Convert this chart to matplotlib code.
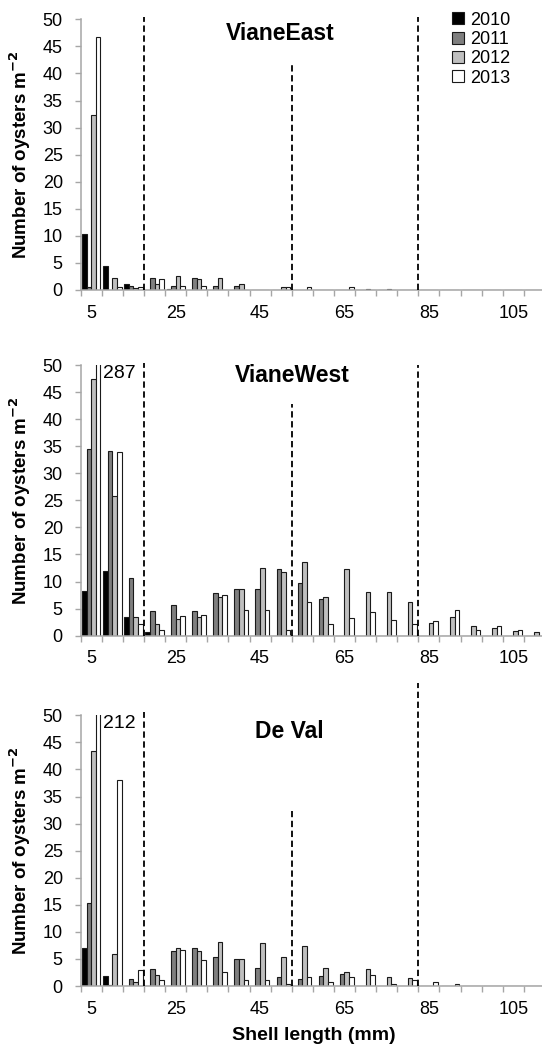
import matplotlib
matplotlib.use("Agg")
import matplotlib.pyplot as plt
from matplotlib.patches import Patch

plt.rcParams['font.family'] = ['Liberation Sans', 'DejaVu Sans']

# ---------------- data ----------------
categories = [5, 10, 15, 20, 25, 30, 35, 40, 45, 50, 55, 60, 65, 70, 75, 80, 85, 90, 95, 100, 105, 110]
tick_labels = ['5', '25', '45', '65', '85', '105']
years = ['2010', '2011', '2012', '2013']

east_2010 = [10.3, 4.5, 1.1, 0, 0.2, 0, 0, 0, 0, 0, 0, 0, 0, 0, 0, 0, 0, 0, 0, 0, 0, 0]
east_2011 = [0.6, 0, 0.7, 2.3, 0.7, 2.3, 0.7, 0.7, 0, 0, 0, 0, 0, 0, 0, 0, 0, 0, 0, 0, 0, 0]
east_2012 = [32.3, 2.3, 0.3, 1.2, 2.5, 2.0, 2.3, 1.2, 0, 0.6, 0, 0, 0, 0.2, 0.2, 0, 0, 0, 0, 0, 0, 0]
east_2013 = [46.7, 0.6, 0.6, 2.0, 0.7, 0.7, 0, 0, 0, 0.6, 0.6, 0, 0.6, 0, 0, 0, 0, 0, 0, 0, 0, 0]

west_2010 = [8.3, 12.0, 3.4, 0.7, 0, 0, 0, 0, 0, 0, 0, 0, 0, 0, 0, 0, 0, 0, 0, 0, 0, 0]
west_2011 = [34.4, 34.2, 10.6, 4.6, 5.6, 4.6, 7.8, 8.6, 8.6, 12.3, 9.7, 6.7, 0, 0, 0, 0, 0, 0, 0, 0, 0, 0]
west_2012 = [47.5, 25.8, 3.4, 2.1, 3.0, 3.4, 7.1, 8.6, 12.5, 11.8, 13.7, 7.1, 12.3, 8.0, 8.0, 6.3, 2.3, 3.4, 1.7, 1.4, 0.9, 0.6]
west_2013 = [287, 33.9, 2.2, 1.1, 3.7, 3.9, 7.6, 4.7, 4.7, 1.0, 6.2, 2.2, 3.2, 4.3, 2.9, 2.2, 2.8, 4.7, 1.0, 1.7, 1.0, 0]

deval_2010 = [7.1, 1.9, 0, 0, 0, 0, 0, 0, 0, 0, 0, 0, 0, 0, 0, 0, 0, 0, 0, 0, 0, 0]
deval_2011 = [15.4, 0.1, 1.35, 3.1, 6.5, 7.0, 5.3, 4.9, 3.3, 1.6, 1.3, 1.9, 2.2, 0, 0, 0, 0, 0, 0, 0, 0, 0]
deval_2012 = [43.4, 6.0, 0.7, 2.0, 7.0, 6.5, 8.2, 5.0, 7.9, 5.4, 7.3, 3.4, 2.6, 3.2, 1.7, 1.4, 0, 0, 0, 0, 0, 0]
deval_2013 = [212, 38.1, 3.0, 1.2, 6.6, 4.8, 2.5, 1.2, 1.2, 0.3, 1.6, 0.7, 1.6, 2.0, 0.3, 1.1, 0.7, 0.3, 0, 0, 0, 0]

titles = ['VianeEast', 'VianeWest', 'De Val']
off_scale = {'VianeWest': '287', 'De Val': '212'}
# dashed boundary lines: category boundary index and top value per panel
dash_bounds = [3, 10, 16]
dash_tops = [[50.5, 41.6, 50.5], [50.4, 42.8, 50.0], [50.6, 32.3, 55.9]]

panels = [
    [east_2010, east_2011, east_2012, east_2013],
    [west_2010, west_2011, west_2012, west_2013],
    [deval_2010, deval_2011, deval_2012, deval_2013],
]

# ---------------- style ----------------
colors = ['#000000', '#7f7f7f', '#bfbfbf', '#ffffff']
edge = '#1a1a1a'
spine_col = '#a6a6a6'
bar_w = 0.217

fig = plt.figure(figsize=(5.42, 10.5), dpi=100)
left, width, height = 0.1489, 0.8565, 0.2578
bottoms = [0.72381, 0.39457, 0.060952]
title_pos = [(0.429, 0.949), (0.456, 0.963), (0.450, 0.942)]

n = len(categories)
xs = list(range(n))
for p, (series, title) in enumerate(zip(panels, titles)):
    ax = fig.add_axes([left, bottoms[p], width, height])
    for j, (vals, col, yr) in enumerate(zip(series, colors, years)):
        pos = [x + (j - 1.5) * bar_w for x in xs]
        ax.bar(pos, vals, width=bar_w, color=col, edgecolor=edge,
               linewidth=0.8, label=yr, zorder=2)
    ax.set_xlim(-0.5, n - 0.5)
    ax.set_ylim(0, 50)
    ax.set_yticks(range(0, 51, 5))
    # category labels every 4th category, tick marks at boundaries
    major_pos = [categories.index(int(t)) for t in tick_labels]
    ax.set_xticks(major_pos)
    ax.set_xticklabels(tick_labels)
    ax.set_xticks([i - 0.5 for i in range(n + 1)], minor=True)
    ax.tick_params(axis='x', which='major', length=0, pad=10.5, labelsize=13)
    ax.tick_params(axis='x', which='minor', length=4.1, color=spine_col, width=1)
    ax.tick_params(axis='y', length=4.1, color=spine_col, width=1, pad=8.8, labelsize=13)
    for s in ['top', 'right']:
        ax.spines[s].set_visible(False)
    for s in ['left', 'bottom']:
        ax.spines[s].set_color(spine_col)
        ax.spines[s].set_linewidth(1.1)
    ax.set_ylabel('Number of oysters m$^{\\mathbf{-2}}$', fontsize=13.5, fontweight='bold')
    ax.yaxis.set_label_coords(-0.103, 0.5)
    ax.text(title_pos[p][0], title_pos[p][1], title, transform=ax.transAxes,
            ha='center', va='center', fontsize=16.5, fontweight='bold')
    for b, top in zip(dash_bounds, dash_tops[p]):
        ax.plot([b - 0.5, b - 0.5], [0, top], color='black', lw=1.3,
                linestyle=(0, (3.5, 2.0)), clip_on=False, zorder=3)
    if title in off_scale:
        ax.text(0.56, 48.5, off_scale[title], ha='left', va='center', fontsize=14)
    if p == 0:
        handles = [Patch(facecolor=c, edgecolor=edge, linewidth=0.8) for c in colors]
        ax.legend(handles, years, loc='upper left', bbox_to_anchor=(0.80, 1.028),
                  frameon=False, fontsize=13, handlelength=0.65, handleheight=0.65,
                  handletextpad=0.35, labelspacing=0.13, borderpad=0, borderaxespad=0)
    if p == 2:
        ax.set_xlabel('Shell length (mm)', fontsize=14, fontweight='bold')
        ax.xaxis.set_label_coords(0.503, -0.152)

fig.savefig('out.png', dpi=100)
